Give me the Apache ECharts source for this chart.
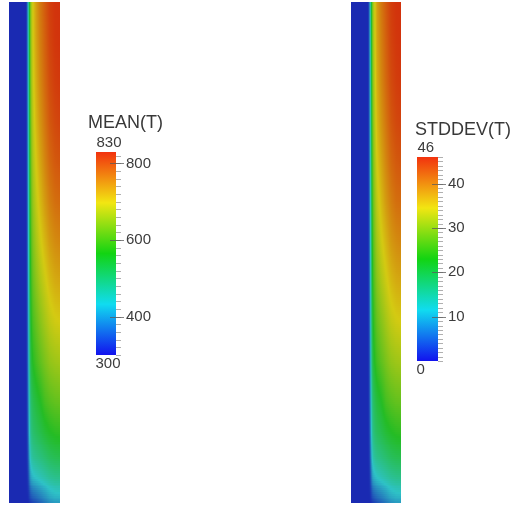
<!DOCTYPE html>
<html>
<head>
<meta charset="utf-8">
<script src="https://cdn.jsdelivr.net/npm/echarts@6/dist/echarts.min.js"></script>
<style>
  html, body { margin: 0; padding: 0; background: #fff; }
  #chart { width: 521px; height: 508px; }
</style>
</head>
<body>
<div id="chart"></div>
<script>
// Sample positions across the channel width (x) and down its length (y)
const colPos = [0, 17, 18, 19, 20, 21, 22, 24, 27, 31, 36, 41, 46, 51];
const rowPos = [0, 40, 80, 120, 160, 200, 240, 280, 320, 360, 400, 430, 455, 475, 490, 501];

// Mean temperature, one row per rowPos entry, one value per colPos entry
const meanT = [
  [300, 300, 340, 420, 512, 602, 655, 700, 735, 768, 796, 820, 829, 830],
  [300, 300, 338, 416, 508, 598, 650, 696, 730, 762, 790, 815, 826, 829],
  [300, 300, 335, 412, 502, 592, 644, 689, 722, 754, 783, 808, 820, 824],
  [300, 300, 332, 407, 496, 583, 634, 679, 712, 743, 772, 798, 810, 815],
  [300, 300, 330, 402, 489, 573, 622, 666, 698, 728, 758, 783, 796, 800],
  [300, 300, 328, 397, 481, 562, 609, 651, 681, 711, 740, 764, 777, 781],
  [300, 300, 326, 392, 473, 550, 594, 634, 662, 690, 716, 740, 752, 757],
  [300, 300, 324, 387, 465, 537, 579, 615, 640, 666, 690, 712, 724, 728],
  [300, 300, 322, 380, 455, 522, 561, 593, 614, 638, 662, 682, 693, 697],
  [300, 300, 320, 372, 443, 505, 541, 568, 587, 608, 630, 648, 656, 660],
  [300, 300, 316, 360, 424, 476, 506, 528, 544, 562, 590, 604, 612, 615],
  [300, 300, 312, 349, 408, 458, 486, 506, 518, 532, 550, 564, 572, 575],
  [300, 300, 308, 334, 385, 428, 455, 472, 482, 492, 506, 520, 528, 531],
  [300, 300, 304, 318, 352, 386, 409, 425, 435, 446, 460, 474, 482, 484],
  [300, 300, 301, 306, 320, 338, 352, 364, 374, 388, 405, 424, 434, 436],
  [300, 300, 300, 300, 304, 310, 316, 324, 334, 348, 368, 388, 398, 400]
];

// Standard deviation of temperature on the same sample grid
const stddevT = [
  [0, 0, 3.5, 10.4, 18.4, 26.2, 30.8, 34.7, 37.7, 40.6, 43.0, 45.1, 45.9, 46.0],
  [0, 0, 3.3, 10.1, 18.0, 25.8, 30.4, 34.3, 37.3, 40.0, 42.5, 44.7, 45.6, 45.9],
  [0, 0, 3.0, 9.7, 17.5, 25.3, 29.8, 33.7, 36.6, 39.4, 41.9, 44.1, 45.1, 45.5],
  [0, 0, 2.8, 9.3, 17.0, 24.6, 29.0, 32.9, 35.7, 38.4, 40.9, 43.2, 44.3, 44.7],
  [0, 0, 2.6, 8.9, 16.4, 23.7, 27.9, 31.8, 34.5, 37.1, 39.7, 41.9, 43.0, 43.4],
  [0, 0, 2.4, 8.4, 15.7, 22.7, 26.8, 30.5, 33.0, 35.6, 38.2, 40.2, 41.4, 41.7],
  [0, 0, 2.3, 8.0, 15.0, 21.7, 25.5, 29.0, 31.4, 33.9, 36.1, 38.2, 39.2, 39.7],
  [0, 0, 2.1, 7.5, 14.3, 20.6, 24.2, 27.3, 29.5, 31.8, 33.9, 35.8, 36.8, 37.2],
  [0, 0, 1.9, 6.9, 13.4, 19.3, 22.7, 25.4, 27.3, 29.3, 31.4, 33.2, 34.1, 34.5],
  [0, 0, 1.7, 6.2, 12.4, 17.8, 20.9, 23.3, 24.9, 26.7, 28.6, 30.2, 30.9, 31.2],
  [0, 0, 1.4, 5.2, 10.8, 15.3, 17.9, 19.8, 21.2, 22.7, 25.2, 26.4, 27.1, 27.3],
  [0, 0, 1.0, 4.3, 9.4, 13.7, 16.1, 17.9, 18.9, 20.1, 21.7, 22.9, 23.6, 23.9],
  [0, 0, 0.7, 3.0, 7.4, 11.1, 13.5, 14.9, 15.8, 16.7, 17.9, 19.1, 19.8, 20.1],
  [0, 0, 0.3, 1.6, 4.5, 7.5, 9.5, 10.8, 11.7, 12.7, 13.9, 15.1, 15.8, 16.0],
  [0, 0, 0.1, 0.5, 1.7, 3.3, 4.5, 5.6, 6.4, 7.6, 9.1, 10.8, 11.6, 11.8],
  [0, 0, 0, 0, 0.3, 0.9, 1.4, 2.1, 3.0, 4.2, 5.9, 7.6, 8.5, 8.7]
];

// Colour bar ranges and labelled ticks
const meanRange = [300, 830];
const meanTicks = [400, 600, 800];
const meanMinorStep = 20;
const stddevRange = [0, 46];
const stddevTicks = [10, 20, 30, 40];
const stddevMinorStep = 1;

// Rainbow lookup table: blue -> cyan -> green -> yellow -> red
const barColors = ['#1212ee', '#10dcf0', '#12d412', '#f2e612', '#f2320e'];
// Same hues as lit on the surface (slightly darker)
const fieldColors = ['#1a2ab2', '#2ec2c6', '#24bc24', '#d4ca12', '#d2320c'];

const FONT = '"Liberation Sans", Arial, sans-serif';

function colorAt(v, range, colors) {
  let t = (v - range[0]) / (range[1] - range[0]);
  t = Math.max(0, Math.min(1, t));
  return echarts.color.lerp(t, colors);
}

function cellsOf(values) {
  const items = [];
  for (let j = 0; j < rowPos.length - 1; j++) {
    for (let i = 0; i < colPos.length - 1; i++) {
      items.push([
        colPos[i], rowPos[j], colPos[i + 1], rowPos[j + 1],
        values[j][i], values[j][i + 1], values[j + 1][i], values[j + 1][i + 1]
      ]);
    }
  }
  return items;
}

// Bilinear-shaded cells: thin pixel-aligned strips, each a left-to-right gradient
function fieldRenderer(range) {
  return function (params, api) {
    const p0 = api.coord([api.value(0), api.value(1)]);
    const p1 = api.coord([api.value(2), api.value(3)]);
    const v00 = api.value(4), v10 = api.value(5), v01 = api.value(6), v11 = api.value(7);
    const xs = Math.round(Math.min(p0[0], p1[0]));
    const xe = Math.round(Math.max(p0[0], p1[0]));
    const top = Math.min(p0[1], p1[1]);
    const h = Math.abs(p1[1] - p0[1]);
    const n = Math.max(1, Math.ceil(h / 2));
    const children = [];
    for (let s = 0; s < n; s++) {
      const ys = Math.round(top + s * h / n);
      const ye = Math.round(top + (s + 1) * h / n);
      if (ye <= ys || xe <= xs) continue;
      const f = (s + 0.5) / n;
      const vl = v00 + (v01 - v00) * f;
      const vr = v10 + (v11 - v10) * f;
      const stops = [];
      for (let k = 0; k <= 4; k++) {
        const u = k / 4;
        stops.push({ offset: u, color: colorAt(vl + (vr - vl) * u, range, fieldColors) });
      }
      children.push({
        type: 'rect',
        shape: { x: xs, y: ys, width: xe - xs, height: ye - ys },
        style: { fill: { type: 'linear', x: 0, y: 0, x2: 1, y2: 0, colorStops: stops, global: false } }
      });
    }
    return { type: 'group', children: children };
  };
}

function minorValues(range, step) {
  const out = [];
  const start = Math.ceil(range[0] / step) * step;
  for (let v = start; v <= range[1] + 1e-9; v += step) out.push(v);
  return out;
}

// Colour bar, its tick marks, and the range labels above and below
function barRenderer(range, ticks, step) {
  return function (params, api) {
    const pTop = api.coord([0, range[1]]);
    const pBot = api.coord([1, range[0]]);
    const x0 = pTop[0], x1 = pBot[0];
    const stops = barColors.map((c, k) => ({ offset: k / (barColors.length - 1), color: c }));
    const children = [
      {
        type: 'rect',
        shape: { x: x0, y: pTop[1], width: x1 - x0, height: pBot[1] - pTop[1] },
        style: { fill: { type: 'linear', x: 0, y: 1, x2: 0, y2: 0, colorStops: stops, global: false } }
      }
    ];
    minorValues(range, step).forEach(function (v) {
      const y = Math.round(api.coord([0, v])[1]) + 0.5;
      children.push({ type: 'line', shape: { x1: x1, y1: y, x2: x1 + 5, y2: y },
                      style: { stroke: '#b0b0b0', lineWidth: 1 } });
    });
    ticks.forEach(function (v) {
      const y = Math.round(api.coord([0, v])[1]) + 0.5;
      children.push({ type: 'line', shape: { x1: x1 - 6, y1: y, x2: x1 + 8, y2: y },
                      style: { stroke: 'rgba(90,90,90,0.75)', lineWidth: 1 } });
    });
    children.push({
      type: 'text',
      style: { text: String(range[1]), x: x0 + 0.5, y: pTop[1] - 9,
               verticalAlign: 'middle', align: 'left', font: '15px ' + FONT, fill: '#3c3c3c' }
    });
    children.push({
      type: 'text',
      style: { text: String(range[0]), x: x0 - 0.5, y: pBot[1] + 9,
               verticalAlign: 'middle', align: 'left', font: '15px ' + FONT, fill: '#3c3c3c' }
    });
    return { type: 'group', children: children };
  };
}

function barAxis(gridIndex, range, ticks) {
  return {
    type: 'value', gridIndex: gridIndex, min: range[0], max: range[1], position: 'right',
    axisLine: { show: false }, splitLine: { show: false }, axisTick: { show: false },
    axisLabel: { show: true, customValues: ticks, margin: 10, fontSize: 15,
                 fontFamily: FONT, color: '#3c3c3c' }
  };
}

const hiddenY = (g) => ({ type: 'value', gridIndex: g, min: 0, max: rowPos[rowPos.length - 1], inverse: true, show: false });
const hiddenX = (g, max) => ({ type: 'value', gridIndex: g, min: 0, max: max, show: false });

const chart = echarts.init(document.getElementById('chart'), null, { renderer: 'canvas' });

chart.setOption({
  animation: false,
  backgroundColor: '#ffffff',
  grid: [
    { left: 9, top: 2, width: 51, height: 501 },
    { left: 351, top: 2, width: 50, height: 501 },
    { left: 96, top: 152, width: 20, height: 203 },
    { left: 417, top: 157, width: 21, height: 204 }
  ],
  xAxis: [
    hiddenX(0, colPos[colPos.length - 1]),
    hiddenX(1, colPos[colPos.length - 1]),
    hiddenX(2, 1),
    hiddenX(3, 1)
  ],
  yAxis: [
    hiddenY(0),
    hiddenY(1),
    barAxis(2, meanRange, meanTicks),
    barAxis(3, stddevRange, stddevTicks)
  ],
  graphic: [
    { type: 'text', left: 88, top: 114, silent: true,
      style: { text: 'MEAN(T)', font: '18px ' + FONT, fill: '#383838' } },
    { type: 'text', left: 415, top: 121, silent: true,
      style: { text: 'STDDEV(T)', font: '18px ' + FONT, fill: '#383838' } }
  ],
  series: [
    { name: 'MEAN(T)', type: 'custom', xAxisIndex: 0, yAxisIndex: 0, clip: true, silent: true,
      encode: { x: [0, 2], y: [1, 3] }, renderItem: fieldRenderer(meanRange), data: cellsOf(meanT) },
    { name: 'STDDEV(T)', type: 'custom', xAxisIndex: 1, yAxisIndex: 1, clip: true, silent: true,
      encode: { x: [0, 2], y: [1, 3] }, renderItem: fieldRenderer(stddevRange), data: cellsOf(stddevT) },
    { name: 'MEAN(T) bar', type: 'custom', xAxisIndex: 2, yAxisIndex: 2, silent: true,
      encode: { x: 0, y: 1 }, renderItem: barRenderer(meanRange, meanTicks, meanMinorStep),
      data: [[0, meanRange[0]]] },
    { name: 'STDDEV(T) bar', type: 'custom', xAxisIndex: 3, yAxisIndex: 3, silent: true,
      encode: { x: 0, y: 1 }, renderItem: barRenderer(stddevRange, stddevTicks, stddevMinorStep),
      data: [[0, stddevRange[0]]] }
  ]
});
</script>
</body>
</html>
